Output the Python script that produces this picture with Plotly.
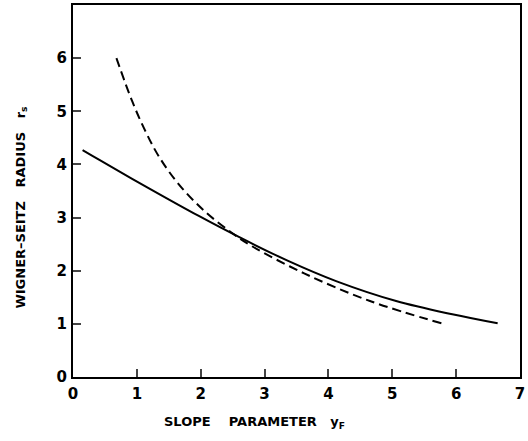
import plotly.graph_objects as go

# Solid curve
solid_x = [0.15, 0.42, 1.19, 1.97, 2.59, 3.36, 4.13, 5.06, 5.94, 6.65]
solid_y = [4.27, 4.08, 3.55, 3.03, 2.64, 2.19, 1.80, 1.43, 1.18, 1.01]

# Dashed curve
dash_x = [0.68, 0.93, 1.14, 1.35, 1.66, 2.07, 2.48, 2.79, 3.62, 4.65, 5.80]
dash_y = [6.00, 5.18, 4.61, 4.14, 3.62, 3.11, 2.72, 2.47, 1.95, 1.43, 1.00]

x_ticks = [0, 1, 2, 3, 4, 5, 6, 7]
y_ticks = [0, 1, 2, 3, 4, 5, 6]

FONT = "DejaVu Sans"
NB = "\u00a0"

fig = go.Figure()
fig.add_trace(go.Scatter(x=solid_x, y=solid_y, mode="lines",
                         line=dict(color="black", width=2, shape="spline", smoothing=1.0),
                         showlegend=False))
fig.add_trace(go.Scatter(x=dash_x, y=dash_y, mode="lines",
                         line=dict(color="black", width=2, dash="9px,5px", shape="spline", smoothing=1.0),
                         showlegend=False))

fig.update_layout(
    width=528, height=441,
    margin=dict(l=73, r=3, t=5, b=64),
    paper_bgcolor="white", plot_bgcolor="white",
    font=dict(family=FONT, color="black", size=15, weight="bold"),
    xaxis=dict(range=[0, 7], tickvals=x_ticks, ticks="inside", ticklen=8, tickwidth=1.5,
               showline=True, linecolor="black", linewidth=2, mirror=True,
               showgrid=False, zeroline=False, ticklabelstandoff=2,
               ticklabeloverflow="allow",
               tickfont=dict(family=FONT, size=15, weight="bold")),
    yaxis=dict(range=[0, 7], tickvals=y_ticks, ticks="inside", ticklen=8, tickwidth=1.5,
               showline=True, linecolor="black", linewidth=2, mirror=True,
               showgrid=False, zeroline=False, ticklabelstandoff=1,
               ticklabeloverflow="allow",
               tickfont=dict(family=FONT, size=15, weight="bold")),
    annotations=[
        dict(text="SLOPE" + NB * 4 + "PARAMETER" + NB * 3 + "y<sub>F</sub>", xref="paper", yref="paper",
             x=(257 - 73) / 452, y=-46 / 372, xanchor="center", yanchor="middle",
             showarrow=False, font=dict(family=FONT, size=13, weight="bold")),
        dict(text="WIGNER\u2013SEITZ" + NB * 3 + "RADIUS" + NB * 3 + "r<sub>s</sub>", xref="paper", yref="paper",
             x=-52 / 452, y=(377 - 208) / 372, xanchor="center", yanchor="middle", textangle=-90,
             showarrow=False, font=dict(family=FONT, size=13, weight="bold")),
    ],
)

fig.write_html("out.html")
